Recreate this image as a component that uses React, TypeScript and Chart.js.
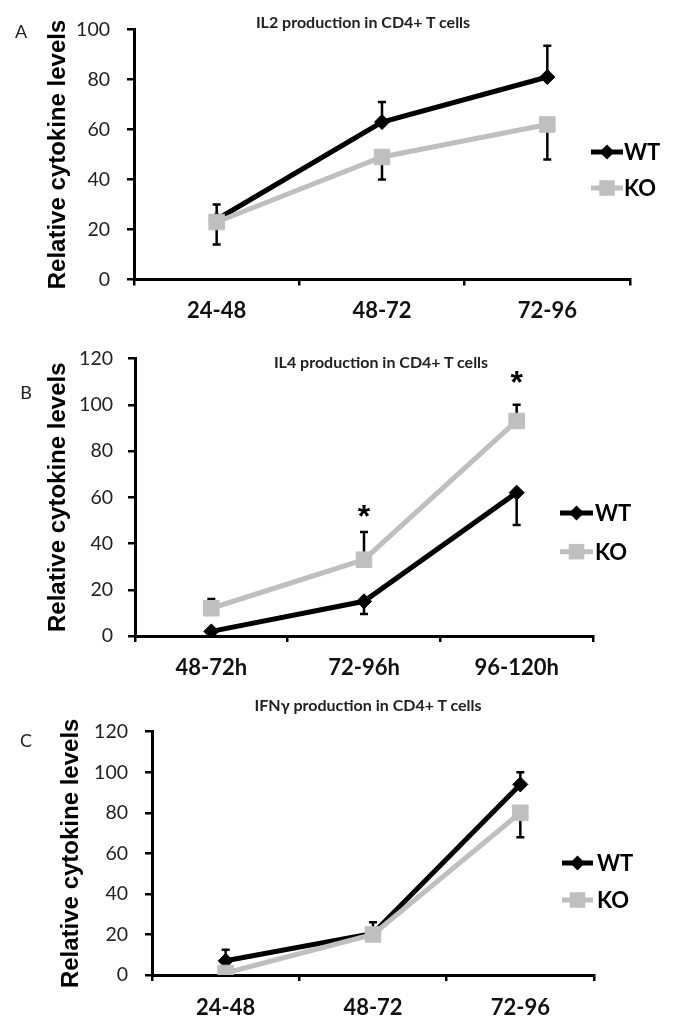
import React, { useEffect, useRef } from "react";
import { Chart, registerables } from "chart.js";

Chart.register(...registerables);

// ---------- data ----------
const seriesNames = ["WT", "KO"];

// Panel A – IL2
const catsA = ["24-48", "48-72", "72-96"];
const wtA = [24, 63, 81];
const wtErrA = [6, 8, 12.5]; // drawn upward
const koA = [23, 49, 62];
const koErrA = [9, 9, 14]; // drawn downward
const yTicksA = [0, 20, 40, 60, 80, 100];

// Panel B – IL4
const catsB = ["48-72h", "72-96h", "96-120h"];
const wtB = [2, 15, 62];
const wtErrB = [0, 5.5, 14]; // drawn downward
const koB = [12, 33, 93];
const koErrB = [4, 12, 7]; // drawn upward
const starsB = ["", "*", "*"];
const starLevelsB = [null, 55, 113];
const yTicksB = [0, 20, 40, 60, 80, 100, 120];

// Panel C – IFNγ
const catsC = ["24-48", "48-72", "72-96"];
const wtC = [7, 20.5, 94];
const wtErrC = [5.5, 5.5, 6]; // drawn upward
const koC = [1, 20, 80];
const koErrC = [0, 0, 12]; // drawn downward
const yTicksC = [0, 20, 40, 60, 80, 100, 120];

// ---------- styles ----------
const WT_COLOR = "#000000";
const KO_COLOR = "#bfbfbf";
const TICK_FONT = "Lato";
const AXIS_TITLE_FONT = "'Liberation Sans', Arial, sans-serif";

// ---------- plugins ----------
const errorBarPlugin = {
  id: "errorBars",
  beforeDatasetsDraw(chart: any) {
    const { ctx } = chart;
    const y = chart.scales.y;
    chart.data.datasets.forEach((ds: any, i: number) => {
      const meta = chart.getDatasetMeta(i);
      meta.data.forEach((pt: any, j: number) => {
        const e = ds.errors ? ds.errors[j] : 0;
        if (!e) return;
        const v = ds.data[j];
        const x = pt.x;
        const y0 = y.getPixelForValue(v);
        const y1 = y.getPixelForValue(v + ds.errDir * e);
        ctx.save();
        ctx.strokeStyle = "#000";
        ctx.lineWidth = 2.5;
        ctx.beginPath();
        ctx.moveTo(x, y0);
        ctx.lineTo(x, y1);
        ctx.moveTo(x - 4, y1);
        ctx.lineTo(x + 4, y1);
        ctx.stroke();
        ctx.restore();
      });
    });
  },
};

const starPlugin = {
  id: "stars",
  afterDatasetsDraw(chart: any, _args: any, opts: any) {
    if (!opts || !opts.texts) return;
    const { ctx } = chart;
    const y = chart.scales.y;
    const x = chart.scales.x;
    ctx.save();
    ctx.fillStyle = "#000";
    ctx.font = "bold 32px 'Liberation Sans', Arial, sans-serif";
    ctx.textAlign = "center";
    ctx.textBaseline = "alphabetic";
    opts.texts.forEach((t: string, j: number) => {
      const lvl = opts.levels[j];
      if (!t || lvl == null) return;
      ctx.fillText(t, x.getPixelForValue(j), y.getPixelForValue(lvl) + 18.5);
    });
    ctx.restore();
  },
};

function drawMarker(ctx: CanvasRenderingContext2D, style: string, x: number, y: number, r: number) {
  ctx.beginPath();
  if (style === "rectRot") {
    ctx.moveTo(x, y - r);
    ctx.lineTo(x + r, y);
    ctx.lineTo(x, y + r);
    ctx.lineTo(x - r, y);
    ctx.closePath();
  } else {
    const s = r * Math.SQRT1_2;
    ctx.rect(x - s, y - s, 2 * s, 2 * s);
  }
  ctx.fill();
}

const legendPlugin = {
  id: "sideLegend",
  afterDraw(chart: any, _args: any, opts: any) {
    const { ctx } = chart;
    chart.data.datasets.forEach((ds: any, i: number) => {
      const y = opts.ys[i];
      ctx.save();
      ctx.strokeStyle = ds.borderColor;
      ctx.fillStyle = ds.borderColor;
      ctx.lineWidth = 5;
      ctx.beginPath();
      ctx.moveTo(opts.x0, y);
      ctx.lineTo(opts.x1, y);
      ctx.stroke();
      drawMarker(ctx, ds.pointStyle, (opts.x0 + opts.x1) / 2, y, ds.pointRadius);
      ctx.fillStyle = "#000";
      ctx.font = `bold 22px ${TICK_FONT}`;
      ctx.textAlign = "left";
      ctx.textBaseline = "middle";
      ctx.fillText(ds.label, opts.tx, y + 1);
      ctx.restore();
    });
  },
};

// ---------- panel ----------
type Spec = {
  top: number;
  height: number;
  labels: string[];
  wt: number[];
  wtErr: number[];
  wtDir: number;
  ko: number[];
  koErr: number[];
  koDir: number;
  yTicks: number[];
  area: { left: number; right: number; top: number; bottom: number };
  titleX: number;
  yPad: number;
  xPad: number;
  legend: { x0: number; x1: number; tx: number; ys: number[] };
  stars?: { texts: string[]; levels: (number | null)[] };
};

function Panel({ spec }: { spec: Spec }) {
  const ref = useRef<HTMLCanvasElement>(null);
  useEffect(() => {
    const yMax = spec.yTicks[spec.yTicks.length - 1];
    const padLeft = spec.titleX - 12;
    const chart = new Chart(ref.current as HTMLCanvasElement, {
      type: "line",
      data: {
        labels: spec.labels,
        datasets: [
          {
            label: seriesNames[0],
            data: spec.wt,
            errors: spec.wtErr,
            errDir: spec.wtDir,
            borderColor: WT_COLOR,
            backgroundColor: WT_COLOR,
            pointBackgroundColor: WT_COLOR,
            pointBorderColor: WT_COLOR,
            pointStyle: "rectRot",
            pointRadius: 7.5,
            pointBorderWidth: 1,
            borderWidth: 5,
            tension: 0,
            order: 1,
          } as any,
          {
            label: seriesNames[1],
            data: spec.ko,
            errors: spec.koErr,
            errDir: spec.koDir,
            borderColor: KO_COLOR,
            backgroundColor: KO_COLOR,
            pointBackgroundColor: KO_COLOR,
            pointBorderColor: KO_COLOR,
            pointStyle: "rect",
            pointRadius: 11,
            pointBorderWidth: 1,
            borderWidth: 5,
            tension: 0,
            order: 0,
          } as any,
        ],
      },
      options: {
        responsive: false,
        animation: false,
        events: [],
        layout: {
          padding: {
            left: padLeft,
            right: 685 - spec.area.right,
            top: spec.area.top,
            bottom: 0,
          },
        },
        scales: {
          x: {
            type: "category",
            offset: true,
            grid: {
              offset: true,
              drawOnChartArea: false,
              drawTicks: true,
              tickLength: 6,
              color: "#000",
              lineWidth: 2.5,
            },
            border: { display: true, color: "#000", width: 3 },
            ticks: {
              color: "#111",
              padding: spec.xPad,
              font: { family: TICK_FONT, size: 22, weight: "bold" },
              maxRotation: 0,
            },
            afterFit: (s: any) => {
              s.height = spec.height - spec.area.bottom;
            },
          },
          y: {
            min: 0,
            max: yMax,
            afterBuildTicks: (s: any) => {
              s.ticks = spec.yTicks.map((v) => ({ value: v }));
            },
            grid: {
              drawOnChartArea: false,
              drawTicks: true,
              tickLength: 7,
              color: "#000",
              lineWidth: 2.5,
            },
            border: { display: true, color: "#000", width: 3 },
            ticks: {
              color: "#222",
              padding: spec.yPad,
              font: { family: TICK_FONT, size: 19.5 },
            },
            title: {
              display: true,
              text: "Relative cytokine levels",
              color: "#000",
              padding: 0,
              font: { family: AXIS_TITLE_FONT, size: 24, weight: "bold", lineHeight: 1 },
            },
            afterFit: (s: any) => {
              s.width = spec.area.left - padLeft;
            },
          },
        },
        plugins: {
          legend: { display: false },
          tooltip: { enabled: false },
          sideLegend: spec.legend,
          stars: spec.stars || {},
        } as any,
      },
      plugins: [errorBarPlugin, starPlugin, legendPlugin],
    } as any);
    return () => chart.destroy();
  }, []);
  return (
    <canvas
      ref={ref}
      width={685}
      height={spec.height}
      style={{ position: "absolute", left: 0, top: spec.top, width: 685, height: spec.height }}
    />
  );
}

const specA: Spec = {
  top: 0,
  height: 330,
  labels: catsA,
  wt: wtA,
  wtErr: wtErrA,
  wtDir: 1,
  ko: koA,
  koErr: koErrA,
  koDir: -1,
  yTicks: yTicksA,
  area: { left: 134, right: 630, top: 29.5, bottom: 279.5 },
  titleX: 58,
  yPad: 17,
  xPad: 12,
  legend: { x0: 591, x1: 623, tx: 624, ys: [152, 188] },
};

const specB: Spec = {
  top: 330,
  height: 360,
  labels: catsB,
  wt: wtB,
  wtErr: wtErrB,
  wtDir: -1,
  ko: koB,
  koErr: koErrB,
  koDir: 1,
  yTicks: yTicksB,
  area: { left: 135, right: 593, top: 28.5, bottom: 306 },
  titleX: 58,
  yPad: 15,
  xPad: 13,
  legend: { x0: 560, x1: 593, tx: 595, ys: [183, 221.7] },
  stars: { texts: starsB, levels: starLevelsB },
};

const specC: Spec = {
  top: 690,
  height: 342,
  labels: catsC,
  wt: wtC,
  wtErr: wtErrC,
  wtDir: 1,
  ko: koC,
  koErr: koErrC,
  koDir: -1,
  yTicks: yTicksC,
  area: { left: 152, right: 594, top: 41.7, bottom: 285 },
  titleX: 71,
  yPad: 17,
  xPad: 14,
  legend: { x0: 562, x1: 593, tx: 597, ys: [173, 210] },
};

const textBase: React.CSSProperties = {
  position: "absolute",
  fontFamily: "Lato, sans-serif",
  color: "#222",
  whiteSpace: "nowrap",
  transform: "translate(-50%, -50%)",
  lineHeight: 1,
};

export default function App() {
  return (
    <div
      style={{
        position: "absolute",
        left: 0,
        top: 0,
        width: 685,
        height: 1032,
        background: "#fff",
        overflow: "hidden",
      }}
    >
      <Panel spec={specA} />
      <Panel spec={specB} />
      <Panel spec={specC} />
      <div style={{ ...textBase, left: 21, top: 31, fontSize: 18 }}>A</div>
      <div style={{ ...textBase, left: 26, top: 392, fontSize: 18 }}>B</div>
      <div style={{ ...textBase, left: 26, top: 740, fontSize: 18 }}>C</div>
      <div style={{ ...textBase, left: 363, top: 22, fontSize: 16, fontWeight: 700 }}>
        IL2 production in CD4+ T cells
      </div>
      <div style={{ ...textBase, left: 381, top: 362, fontSize: 16, fontWeight: 700 }}>
        IL4 production in CD4+ T cells
      </div>
      <div style={{ ...textBase, left: 368, top: 705, fontSize: 16, fontWeight: 700 }}>
        IFNγ production in CD4+ T cells
      </div>
    </div>
  );
}
